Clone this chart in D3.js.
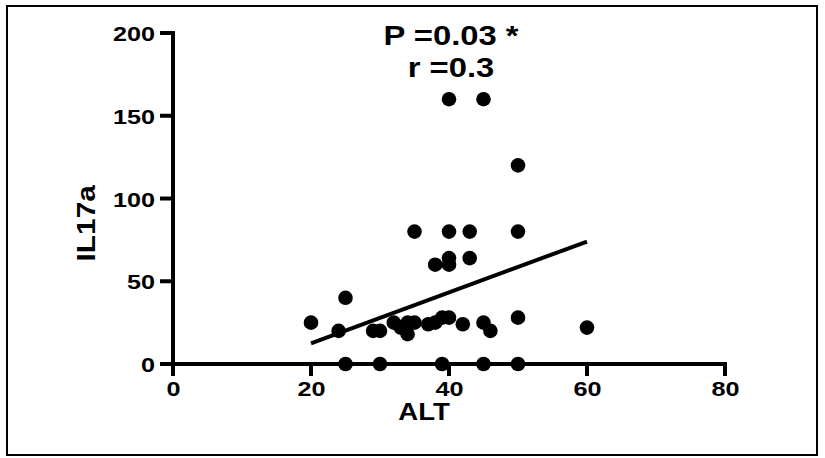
<!DOCTYPE html>
<html>
<head>
<meta charset="utf-8">
<script src="https://cdn.jsdelivr.net/npm/d3@7"></script>
<style>
  body { margin: 0; background: #fff; }
  text { font-family: Arial, "Liberation Sans", sans-serif; font-weight: bold; fill: #000; }
</style>
</head>
<body>
<div id="chart"></div>
<script>
// ALT vs IL17a
const alt   = [20, 24, 25, 25, 29, 30, 30, 32, 33, 34, 34, 35, 35, 37, 38, 38, 39, 39, 40, 40, 40, 40, 40, 42, 43, 43, 45, 45, 45, 46, 50, 50, 50, 50, 60];
const il17a = [25, 20, 40,  0, 20, 20,  0, 25, 22, 25, 18, 25, 80, 24, 25, 60, 28,  0, 28, 160, 80, 64, 60, 24, 80, 64, 160, 25, 0, 20, 120, 80, 28, 0, 22];
// linear fit endpoints
const fitX = [20, 60];
const fitY = [12.5, 74];
const xTicks = [0, 20, 40, 60, 80];
const yTicks = [0, 50, 100, 150, 200];
const statLines = ["P =0.03 *", "r =0.3"];

const W = 825, H = 458;
const sx = 1.2; // glyphs in the reference are drawn wide

const svg = d3.select("#chart").append("svg")
    .attr("width", W)
    .attr("height", H);

svg.append("rect")
    .attr("x", 7).attr("y", 6)
    .attr("width", 810).attr("height", 449)
    .attr("fill", "none")
    .attr("stroke", "#000")
    .attr("stroke-width", 2);

const x = d3.scaleLinear().domain([0, 80]).range([173, 725]);
const y = d3.scaleLinear().domain([0, 200]).range([364, 33]);

const tickLen = 12, pad = 5, lw = 4;

// axis segments, each a plain line on the svg (tiny skew so no zero-size boxes)
const segs = [[x(0) - tickLen - 1, y(0), x(80) + 2, y(0) + 0.02],
              [x(0), y(0) + 2, x(0) + 0.02, y(200) - 2]];
xTicks.forEach(function (t) { segs.push([x(t), y(0), x(t) + 0.02, y(0) + tickLen]); });
yTicks.forEach(function (t) { segs.push([x(0), y(t), x(0) - tickLen - 1, y(t) + 0.02]); });

segs.forEach(function (s) {
  svg.append("line")
      .attr("x1", s[0]).attr("y1", s[1])
      .attr("x2", s[2]).attr("y2", s[3])
      .attr("stroke", "#000")
      .attr("stroke-width", lw);
});

// tick labels from d3.axis
const gx = svg.append("g")
    .attr("transform", "translate(0," + y(0) + ")")
    .call(d3.axisBottom(x).tickValues(xTicks).tickSize(tickLen).tickSizeOuter(0).tickPadding(pad));

const gy = svg.append("g")
    .attr("transform", "translate(" + x(0) + ",0)")
    .call(d3.axisLeft(y).tickValues(yTicks).tickSize(tickLen + 1).tickSizeOuter(0).tickPadding(pad));

[gx, gy].forEach(function (g) {
  g.select(".domain").remove();
  g.selectAll(".tick line").remove();
  g.selectAll("text")
    .style("font-size", "21px")
    .style("font-family", "Arial, 'Liberation Sans', sans-serif")
    .style("font-weight", "bold");
});

gy.selectAll("text")
    .attr("x", -(tickLen + 1 + pad) / sx)
    .attr("dy", "0.36em")
    .attr("transform", "scale(" + sx + ",1)");
gx.selectAll("text")
    .attr("y", tickLen + 5)
    .attr("transform", "scale(" + sx + ",1)");

// fit line
svg.append("line")
    .attr("x1", x(fitX[0])).attr("y1", y(fitY[0]))
    .attr("x2", x(fitX[1])).attr("y2", y(fitY[1]))
    .attr("stroke", "#000")
    .attr("stroke-width", 4);

// points
svg.append("g").selectAll("circle")
    .data(alt.map(function (a, i) { return [a, il17a[i]]; }))
  .enter().append("circle")
    .attr("cx", function (d) { return x(d[0]); })
    .attr("cy", function (d) { return y(d[1]); })
    .attr("r", 7.3)
    .attr("fill", "#000");

// axis titles
svg.append("text")
    .attr("transform", "translate(" + (x(40) - 25) + ",420) scale(1.15,1)")
    .attr("text-anchor", "middle")
    .style("font-size", "24px")
    .text("ALT");

svg.append("text")
    .attr("transform", "translate(95," + y(85) + ") rotate(-90) scale(1.15,1)")
    .attr("text-anchor", "middle")
    .style("font-size", "26px")
    .text("IL17a");

// stats
svg.selectAll(".stat")
    .data(statLines)
  .enter().append("text")
    .attr("class", "stat")
    .attr("transform", function (d, i) { return "translate(451," + (45 + i * 32) + ") scale(1.17,1)"; })
    .attr("text-anchor", "middle")
    .style("font-size", "28px")
    .text(function (d) { return d; });
</script>
</body>
</html>
